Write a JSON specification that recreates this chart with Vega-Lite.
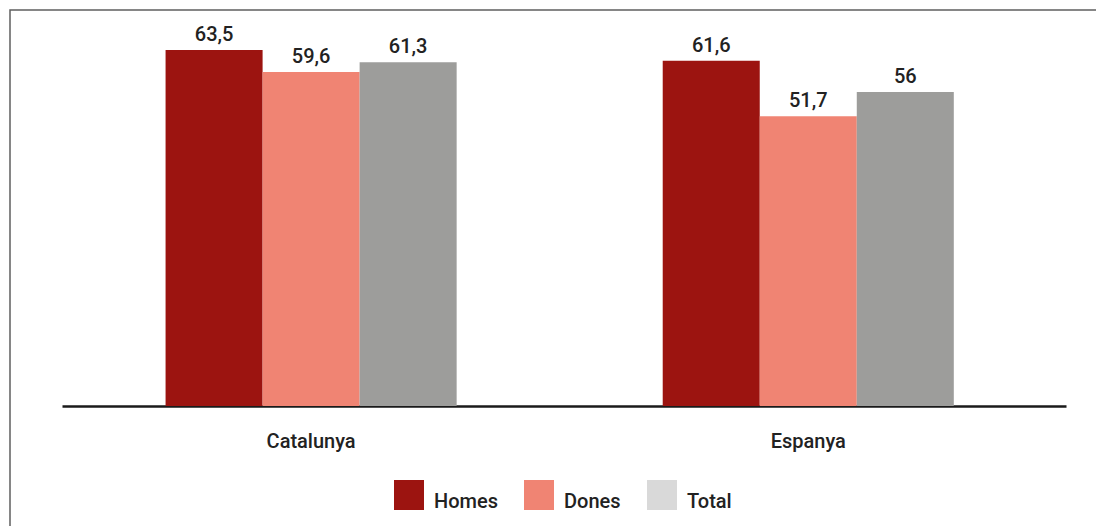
{
  "$schema": "https://vega.github.io/schema/vega-lite/v6.json",
  "autosize": "none",
  "width": 1100,
  "height": 530,
  "padding": {"left": 10, "top": 10, "right": 0, "bottom": 0},
  "background": "white",
  "config": {
    "view": {"stroke": "#5f5f5f", "strokeWidth": 1.5},
    "font": "Roboto",
    "locale": {"number": {"decimal": ",", "thousands": ".", "grouping": [3], "currency": ["", " €"]}}
  },
  "data": {
    "values": [
      {"pais": "Catalunya", "sexe": "Homes", "valor": 63.5},
      {"pais": "Catalunya", "sexe": "Dones", "valor": 59.6},
      {"pais": "Catalunya", "sexe": "Total", "valor": 61.3},
      {"pais": "Espanya", "sexe": "Homes", "valor": 61.6},
      {"pais": "Espanya", "sexe": "Dones", "valor": 51.7},
      {"pais": "Espanya", "sexe": "Total", "valor": 56}
    ]
  },
  "encoding": {
    "x": {
      "field": "pais", "type": "nominal",
      "scale": {"range": [52, 1056], "paddingInner": 0.4145, "paddingOuter": 0.217, "align": 0.48},
      "axis": {"title": null, "labelAngle": 0, "ticks": false, "domainColor": "#1a1a1a", "domainWidth": 2.5,
               "offset": -134, "labelFontSize": 20, "labelFontWeight": 500, "labelColor": "#222222", "labelPadding": 25, "labelFont": "Roboto"}
    },
    "xOffset": {"field": "sexe", "type": "nominal", "sort": ["Homes", "Dones", "Total"],
                "scale": {"paddingInner": 0, "paddingOuter": 0}},
    "y": {
      "field": "valor", "type": "quantitative",
      "scale": {"domain": [0, 70], "range": [396, 3.6], "nice": false, "zero": true},
      "axis": null
    }
  },
  "layer": [
    {
      "mark": {"type": "bar"},
      "encoding": {
        "color": {
          "field": "sexe", "type": "nominal", "sort": ["Homes", "Dones", "Total"],
          "scale": {"domain": ["Homes", "Dones", "Total"], "range": ["#9c1410", "#f08473", "#9d9d9b"]},
          "legend": null
        }
      }
    },
    {
      "mark": {"type": "bar"},
      "encoding": {
        "y": {"datum": 0, "type": "quantitative"},
        "y2": {"datum": 0},
        "color": {
          "field": "sexe", "type": "nominal", "sort": ["Homes", "Dones", "Total"],
          "scale": {"domain": ["Homes", "Dones", "Total"], "range": ["#9c1410", "#f08473", "#d9d9d9"]},
          "legend": {
            "title": null, "orient": "none", "direction": "horizontal",
            "legendX": 384, "legendY": 470,
            "symbolType": "square", "symbolSize": 900, "symbolStrokeWidth": 0,
            "labelFontSize": 20, "labelFontWeight": 500, "labelColor": "#222222", "labelOffset": 10, "columnPadding": 26,
            "labelFont": "Roboto",
            "encode": {
              "labels": {"update": {"dy": {"value": 7}}}
            }
          }
        }
      }
    },
    {
      "mark": {"type": "text", "baseline": "alphabetic", "dy": -9, "fontSize": 20, "fontWeight": 500, "color": "#222222", "font": "Roboto"},
      "encoding": {
        "text": {"field": "valor", "type": "quantitative", "format": ".1~f"}
      }
    }
  ],
  "resolve": {"scale": {"color": "independent"}}
}
